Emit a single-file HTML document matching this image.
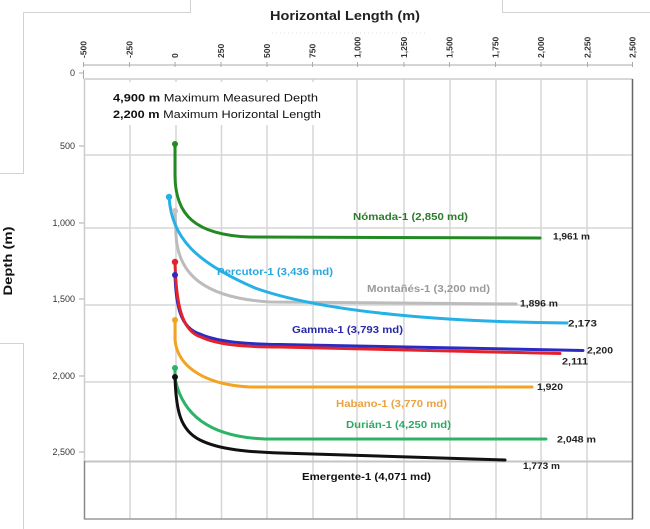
<!DOCTYPE html>
<html><head><meta charset="utf-8"><style>
html,body{margin:0;padding:0;background:#fff;}
svg{display:block;font-family:"Liberation Sans",Arial,sans-serif;}
</style></head><body>
<svg width="650" height="529" viewBox="0 0 650 529" xmlns="http://www.w3.org/2000/svg">
<rect width="650" height="529" fill="#fff"/>
<!-- screenshot artifact frames -->
<g stroke="#d2d2d2" stroke-width="1" fill="none">
<path d="M190.5,0 V12.5 H23.5 V173.5 H0"/>
<path d="M0,343.5 H23.5 V529"/>
<path d="M502.5,0 V12.5 H650"/>
</g>
<!-- title -->
<text x="345" y="20" text-anchor="middle" font-size="13" font-weight="bold" fill="#222" textLength="150" lengthAdjust="spacingAndGlyphs">Horizontal Length (m)</text>
<line x1="272" y1="33" x2="428" y2="33" stroke="#ddd" stroke-width="1" stroke-dasharray="1,3"/>
<!-- top axis -->
<line x1="83" y1="65" x2="633" y2="65" stroke="#aaa" stroke-width="1"/>
<g stroke="#aaa" stroke-width="1">
<line x1="83.5" y1="62" x2="83.5" y2="67"/><line x1="129.5" y1="62" x2="129.5" y2="67"/><line x1="175" y1="62" x2="175" y2="67"/><line x1="221" y1="62" x2="221" y2="67"/><line x1="267" y1="62" x2="267" y2="67"/><line x1="312.5" y1="62" x2="312.5" y2="67"/><line x1="357.5" y1="62" x2="357.5" y2="67"/><line x1="404" y1="62" x2="404" y2="67"/><line x1="449.5" y1="62" x2="449.5" y2="67"/><line x1="495.5" y1="62" x2="495.5" y2="67"/><line x1="541" y1="62" x2="541" y2="67"/><line x1="587.5" y1="62" x2="587.5" y2="67"/><line x1="632.5" y1="62" x2="632.5" y2="67"/>
</g>
<g font-size="8.5" font-weight="bold" fill="#333">
<text transform="translate(86.5,58) rotate(-90)">-500</text>
<text transform="translate(132.5,58) rotate(-90)">-250</text>
<text transform="translate(178,58) rotate(-90)">0</text>
<text transform="translate(224,58) rotate(-90)">250</text>
<text transform="translate(270,58) rotate(-90)">500</text>
<text transform="translate(315.5,58) rotate(-90)">750</text>
<text transform="translate(360.5,58) rotate(-90)">1,000</text>
<text transform="translate(407,58) rotate(-90)">1,250</text>
<text transform="translate(452.5,58) rotate(-90)">1,500</text>
<text transform="translate(498.5,58) rotate(-90)">1,750</text>
<text transform="translate(544,58) rotate(-90)">2,000</text>
<text transform="translate(590.5,58) rotate(-90)">2,250</text>
<text transform="translate(635.5,58) rotate(-90)">2,500</text>
</g>
<!-- y axis labels -->
<g font-size="9" fill="#333" text-anchor="end">
<text x="75" y="76">0</text>
<text x="75" y="149">500</text>
<text x="75" y="226">1,000</text>
<text x="75" y="302">1,500</text>
<text x="75" y="379">2,000</text>
<text x="75" y="455">2,500</text>
</g>
<g stroke="#aaa" stroke-width="1">
<line x1="79" y1="73" x2="84" y2="73"/><line x1="83.5" y1="70" x2="83.5" y2="79"/>
<line x1="79" y1="146" x2="84" y2="146"/>
<line x1="79" y1="223" x2="84" y2="223"/>
<line x1="79" y1="299" x2="84" y2="299"/>
<line x1="79" y1="376" x2="84" y2="376"/>
<line x1="79" y1="452" x2="84" y2="452"/>
</g>
<text transform="translate(12,261) rotate(-90)" text-anchor="middle" font-size="12" font-weight="bold" fill="#111" textLength="69" lengthAdjust="spacingAndGlyphs">Depth (m)</text>
<!-- grid -->
<g stroke="#d6d6d6" stroke-width="1.5">
<line x1="130" y1="79" x2="130" y2="519"/><line x1="176" y1="79" x2="176" y2="519"/><line x1="221.5" y1="79" x2="221.5" y2="519"/><line x1="267" y1="79" x2="267" y2="519"/><line x1="313" y1="79" x2="313" y2="519"/><line x1="357" y1="79" x2="357" y2="519"/><line x1="404" y1="79" x2="404" y2="519"/><line x1="450" y1="79" x2="450" y2="519"/><line x1="496" y1="79" x2="496" y2="519"/><line x1="541" y1="79" x2="541" y2="519"/><line x1="587" y1="79" x2="587" y2="519"/>
<line x1="84.5" y1="155" x2="632.5" y2="155"/><line x1="84.5" y1="228" x2="632.5" y2="228"/><line x1="84.5" y1="305" x2="632.5" y2="305"/><line x1="84.5" y1="382" x2="632.5" y2="382"/>
</g>
<line x1="84.5" y1="79" x2="632.5" y2="79" stroke="#ccc" stroke-width="1.5"/>
<line x1="84.5" y1="461.5" x2="632.5" y2="461.5" stroke="#c4c4c4" stroke-width="2"/>
<line x1="84.5" y1="519" x2="632.5" y2="519" stroke="#999" stroke-width="1.5"/>
<line x1="84.5" y1="461" x2="84.5" y2="519.5" stroke="#888" stroke-width="1.5"/>
<line x1="84.5" y1="79" x2="84.5" y2="461" stroke="#ccc" stroke-width="1.5"/>
<line x1="632.5" y1="79" x2="632.5" y2="519.5" stroke="#666" stroke-width="1.5"/>
<!-- text box cover -->
<rect x="86" y="82" width="264" height="43" fill="#fff"/>
<text x="113" y="101.5" font-size="11" fill="#111" textLength="205" lengthAdjust="spacingAndGlyphs"><tspan font-weight="bold">4,900 m</tspan> Maximum Measured Depth</text>
<text x="113" y="118" font-size="11" fill="#111" textLength="208" lengthAdjust="spacingAndGlyphs"><tspan font-weight="bold">2,200 m</tspan> Maximum Horizontal Length</text>
<!-- series -->
<g fill="none" stroke-width="3" stroke-linecap="round" stroke-linejoin="round">
<path d="M175,144 L175,175 C175,215 195,235 250,237 L540,238" stroke="#238a23"/>
<path d="M175,211 L176,235 C178,275 205,298 270,302 L516,304" stroke="#bcbcbc"/>
<path d="M169,197 C172,238 195,262 255,288 C325,313 450,322 567,323" stroke="#25b1e6"/>
<path d="M175,275 C176,305 180,328 200,334 C215,341 240,344 280,344.5 L583,350.5" stroke="#2b2bc4"/>
<path d="M175,262 C176,302 181,331 201,337 C216,344 240,347 280,347 L560,353.5" stroke="#e3222c"/>
<path d="M175,320 L175,340 C178,370 210,385 250,387 L532,387" stroke="#f4a321"/>
<path d="M175,368 L175,378 C182,415 210,437 265,439 L546,439" stroke="#2bb366"/>
<path d="M175,377 C176,410 180,430 200,440 C220,450 250,452 280,453 L505,460" stroke="#111"/>
</g>
<g>
<circle cx="175" cy="144" r="3" fill="#238a23"/>
<circle cx="169" cy="197" r="3.2" fill="#25b1e6"/>
<circle cx="175" cy="211" r="3" fill="#c4c4c4"/>
<circle cx="175" cy="262" r="3.2" fill="#e3222c"/>
<circle cx="175" cy="275" r="3" fill="#2b2bc4"/>
<circle cx="175" cy="320" r="3" fill="#f4a321"/>
<circle cx="175" cy="368" r="3" fill="#2bb366"/>
<circle cx="175" cy="377" r="3" fill="#111"/>
</g>
<!-- series labels -->
<g font-size="10" font-weight="bold">
<text x="353" y="220" fill="#2a7d2a" textLength="115" lengthAdjust="spacingAndGlyphs">Nómada-1 (2,850 md)</text>
<text x="217" y="275" fill="#28a8e0" textLength="116" lengthAdjust="spacingAndGlyphs">Percutor-1 (3,436 md)</text>
<text x="367" y="292" fill="#9a9a9a" textLength="123" lengthAdjust="spacingAndGlyphs">Montañés-1 (3,200 md)</text>
<text x="292" y="333" fill="#2a2aa8" textLength="111" lengthAdjust="spacingAndGlyphs">Gamma-1 (3,793 md)</text>
<text x="336" y="407" fill="#eba343" textLength="111" lengthAdjust="spacingAndGlyphs">Habano-1 (3,770 md)</text>
<text x="346" y="428" fill="#2fa866" textLength="105" lengthAdjust="spacingAndGlyphs">Durián-1 (4,250 md)</text>
<text x="302" y="480" fill="#111" textLength="129" lengthAdjust="spacingAndGlyphs">Emergente-1 (4,071 md)</text>
</g>
<g font-size="9" font-weight="bold" fill="#222">
<text x="553" y="239.5" textLength="37" lengthAdjust="spacingAndGlyphs">1,961 m</text>
<text x="520" y="306.5" textLength="38" lengthAdjust="spacingAndGlyphs">1,896 m</text>
<text x="568" y="326.5" textLength="29" lengthAdjust="spacingAndGlyphs">2,173</text>
<text x="587" y="353.5" textLength="26" lengthAdjust="spacingAndGlyphs">2,200</text>
<text x="562" y="364.5" textLength="26" lengthAdjust="spacingAndGlyphs">2,111</text>
<text x="537" y="390" textLength="26" lengthAdjust="spacingAndGlyphs">1,920</text>
<text x="557" y="442.5" textLength="39" lengthAdjust="spacingAndGlyphs">2,048 m</text>
<text x="523" y="469" textLength="37" lengthAdjust="spacingAndGlyphs">1,773 m</text>
</g>
</svg>
</body></html>
